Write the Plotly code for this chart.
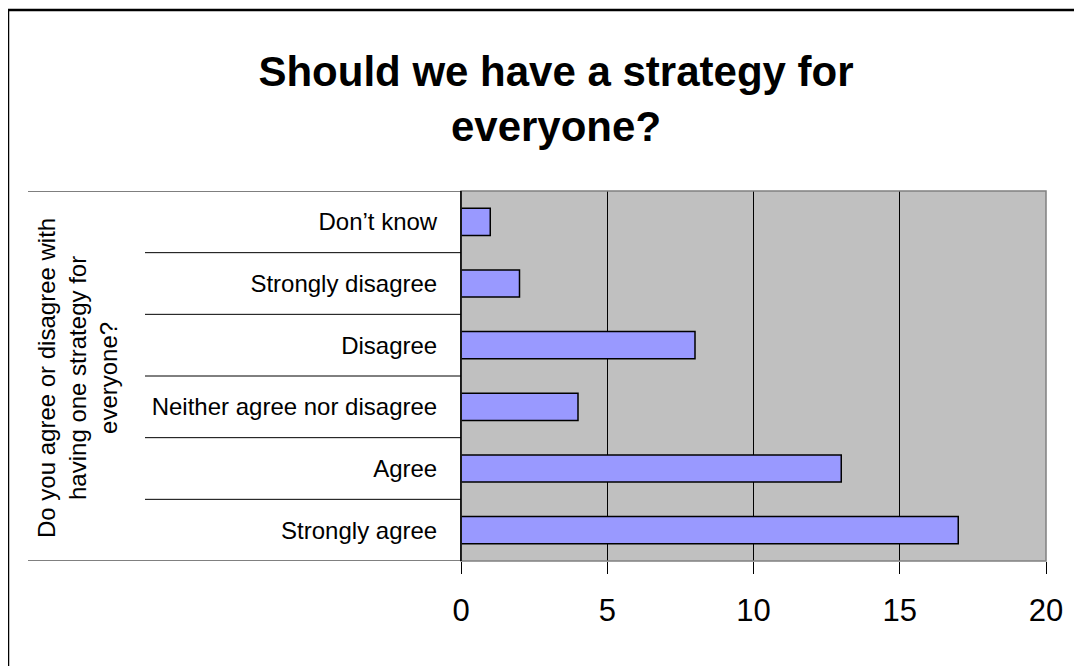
import plotly.graph_objects as go

categories = ["Strongly agree", "Agree", "Neither agree nor disagree", "Disagree", "Strongly disagree", "Don\u2019t know"]
counts = [17, 13, 4, 8, 2, 1]
x_ticks = [0, 5, 10, 15, 20]

title_text = "Should we have a strategy for<br>everyone?"
y_title = "Do you agree or disagree with<br>having one strategy for<br>everyone?"

# page body has an 8px margin; work in screen pixels and subtract it
OFF = 8
W, H = 1082 - OFF, 666 - OFF
X0, X20, YT, YB = 461, 1046, 191, 561   # screen px of plot area
L, R, T, B = X0 - OFF, 1082 - X20, YT - OFF, 666 - YB
pw = X20 - X0
ph = YB - YT

fig = go.Figure(go.Bar(
    x=counts, y=categories, orientation="h",
    marker=dict(color="#9999FF", line=dict(color="black", width=1.5)),
    width=0.44,
))

def sx(px):
    return (px - X0) / pw

def sy(py):
    return (YB - py) / ph

fig.update_layout(
    width=W, height=H,
    margin=dict(l=L, r=R, t=T, b=B, pad=0),
    paper_bgcolor="white",
    plot_bgcolor="#C0C0C0",
    showlegend=False,
    font=dict(family="Liberation Sans, Arial, sans-serif", color="black"),
    title=dict(text="<b>" + title_text + "</b>", x=sx(556), xref="paper", xanchor="center",
               y=1 - (86 - OFF) / H, yanchor="middle",
               font=dict(size=42, family="Liberation Sans, Arial, sans-serif", color="black")),
    xaxis=dict(range=[0, 20], tickvals=x_ticks, ticktext=[str(v) for v in x_ticks],
               showgrid=True, gridcolor="black", gridwidth=1,
               ticks="outside", ticklen=12, tickcolor="black", tickwidth=1,
               tickfont=dict(size=31), zeroline=False, showline=False,
               ticklabelstandoff=10, fixedrange=True),
    yaxis=dict(categoryorder="array", categoryarray=categories,
               range=[-0.5, 5.5], showgrid=False, zeroline=False,
               showline=True, linecolor="black", linewidth=1,
               ticks="", tickfont=dict(size=24), ticklabelstandoff=18, fixedrange=True),
)

shapes = []
shapes.append(dict(type="rect", xref="paper", yref="paper", x0=0, x1=1, y0=0, y1=1,
                   line=dict(color="#808080", width=1.5), fillcolor="rgba(0,0,0,0)", layer="above"))
shapes.append(dict(type="line", xref="paper", yref="paper", x0=0, x1=0, y0=0, y1=1,
                   line=dict(color="black", width=1.5), layer="above"))
for i in range(7):
    yb = i - 0.5
    x0 = sx(28) if i in (0, 6) else sx(145)
    shapes.append(dict(type="line", xref="paper", yref="y", x0=x0, x1=0, y0=yb, y1=yb,
                       line=dict(color="black", width=1)))
# figure border (left and top visible, right/bottom beyond view)
shapes.append(dict(type="rect", xref="paper", yref="paper",
                   x0=sx(8), x1=sx(1100), y0=sy(690), y1=sy(10),
                   line=dict(color="black", width=2.5), fillcolor="rgba(0,0,0,0)"))
fig.update_layout(shapes=shapes)

fig.add_annotation(text=y_title, xref="paper", yref="paper",
                   x=sx(77), y=sy(378), xanchor="center", yanchor="middle",
                   textangle=-90, showarrow=False, align="center",
                   font=dict(size=24, color="black"))

fig.write_html("out.html")
